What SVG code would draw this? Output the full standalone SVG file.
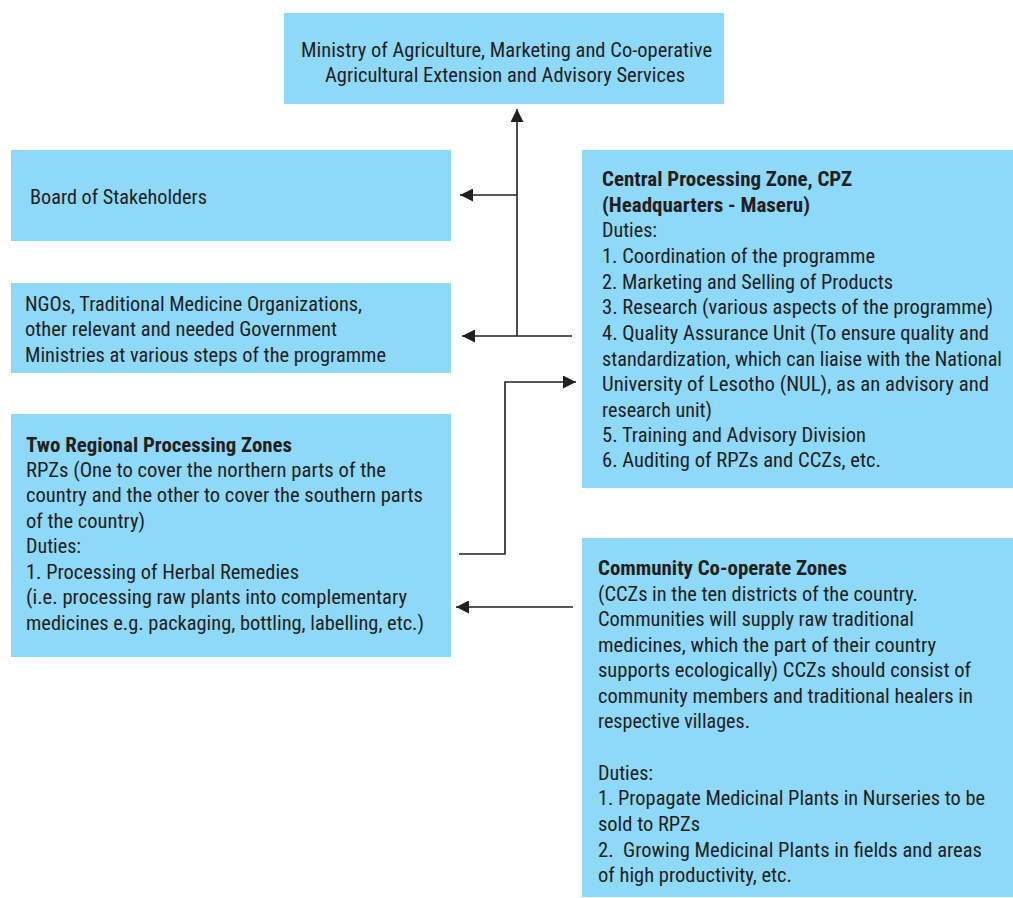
<svg xmlns="http://www.w3.org/2000/svg" width="1013" height="898" viewBox="0 0 1013 898">
<style>
.box{fill:#8ed8f8;}
text{font-family:"Liberation Sans Narrow","Roboto Condensed","DejaVu Sans Condensed","Liberation Sans",Arial,sans-serif;font-size:21px;fill:#231f20;}
.b{font-weight:bold;}
.c{stroke:#231f20;stroke-width:1.6;fill:none;}
</style>
<defs>
<marker id="ah" viewBox="0 0 13 13" refX="13" refY="6.5" markerWidth="13" markerHeight="13" orient="auto" markerUnits="userSpaceOnUse">
<path d="M0,0 L13,6.5 L0,13 z" fill="#231f20"/>
</marker>
</defs>
<rect width="1013" height="898" fill="#ffffff"/>

<g id="ministry">
<rect class="box" x="284" y="13" width="440" height="91"/>
<text x="301" y="57" textLength="411" lengthAdjust="spacingAndGlyphs">Ministry of Agriculture, Marketing and Co-operative</text>
<text x="325" y="82" textLength="360" lengthAdjust="spacingAndGlyphs">Agricultural Extension and Advisory Services</text>
</g>

<g id="board">
<rect class="box" x="11" y="150" width="440" height="91"/>
<text x="30" y="204" textLength="177" lengthAdjust="spacingAndGlyphs">Board of Stakeholders</text>
</g>

<g id="ngos">
<rect class="box" x="11" y="283" width="440" height="90"/>
<text x="25" y="311" textLength="337" lengthAdjust="spacingAndGlyphs">NGOs, Traditional Medicine Organizations,</text>
<text x="25" y="336" textLength="312" lengthAdjust="spacingAndGlyphs">other relevant and needed Government</text>
<text x="25" y="362" textLength="361" lengthAdjust="spacingAndGlyphs">Ministries at various steps of the programme</text>
</g>

<g id="rpz">
<rect class="box" x="11" y="414" width="440" height="243"/>
<text class="b" x="26" y="452" textLength="266" lengthAdjust="spacingAndGlyphs">Two Regional Processing Zones</text>
<text x="26" y="477" textLength="360" lengthAdjust="spacingAndGlyphs">RPZs (One to cover the northern parts of the</text>
<text x="26" y="502" textLength="397" lengthAdjust="spacingAndGlyphs">country and the other to cover the southern parts</text>
<text x="26" y="528" textLength="119" lengthAdjust="spacingAndGlyphs">of the country)</text>
<text x="26" y="553" textLength="55" lengthAdjust="spacingAndGlyphs">Duties:</text>
<text x="26" y="579" textLength="273" lengthAdjust="spacingAndGlyphs">1. Processing of Herbal Remedies</text>
<text x="26" y="604" textLength="381" lengthAdjust="spacingAndGlyphs">(i.e. processing raw plants into complementary</text>
<text x="26" y="630" textLength="398" lengthAdjust="spacingAndGlyphs">medicines e.g. packaging, bottling, labelling, etc.)</text>
</g>

<g id="cpz">
<rect class="box" x="582" y="150" width="431" height="338"/>
<text class="b" x="602" y="186" textLength="250" lengthAdjust="spacingAndGlyphs">Central Processing Zone, CPZ</text>
<text class="b" x="602" y="212" textLength="208" lengthAdjust="spacingAndGlyphs">(Headquarters - Maseru)</text>
<text x="602" y="237" textLength="55" lengthAdjust="spacingAndGlyphs">Duties:</text>
<text x="602" y="263" textLength="273" lengthAdjust="spacingAndGlyphs">1. Coordination of the programme</text>
<text x="602" y="289" textLength="291" lengthAdjust="spacingAndGlyphs">2. Marketing and Selling of Products</text>
<text x="602" y="314" textLength="391" lengthAdjust="spacingAndGlyphs">3. Research (various aspects of the programme)</text>
<text x="602" y="340" textLength="387" lengthAdjust="spacingAndGlyphs">4. Quality Assurance Unit (To ensure quality and</text>
<text x="602" y="366" textLength="400" lengthAdjust="spacingAndGlyphs">standardization, which can liaise with the National</text>
<text x="602" y="391" textLength="387" lengthAdjust="spacingAndGlyphs">University of Lesotho (NUL), as an advisory and</text>
<text x="602" y="417" textLength="110" lengthAdjust="spacingAndGlyphs">research unit)</text>
<text x="602" y="442" textLength="264" lengthAdjust="spacingAndGlyphs">5. Training and Advisory Division</text>
<text x="602" y="467" textLength="279" lengthAdjust="spacingAndGlyphs">6. Auditing of RPZs and CCZs, etc.</text>
</g>

<g id="ccz">
<rect class="box" x="582" y="538" width="431" height="359"/>
<text class="b" x="598" y="575" textLength="249" lengthAdjust="spacingAndGlyphs">Community Co-operate Zones</text>
<text x="598" y="601" textLength="320" lengthAdjust="spacingAndGlyphs">(CCZs in the ten districts of the country.</text>
<text x="598" y="626" textLength="316" lengthAdjust="spacingAndGlyphs">Communities will supply raw traditional</text>
<text x="598" y="652" textLength="338" lengthAdjust="spacingAndGlyphs">medicines, which the part of their country</text>
<text x="598" y="677" textLength="373" lengthAdjust="spacingAndGlyphs">supports ecologically) CCZs should consist of</text>
<text x="598" y="703" textLength="375" lengthAdjust="spacingAndGlyphs">community members and traditional healers in</text>
<text x="598" y="728" textLength="152" lengthAdjust="spacingAndGlyphs">respective villages.</text>
<text x="598" y="780" textLength="55" lengthAdjust="spacingAndGlyphs">Duties:</text>
<text x="598" y="805" textLength="387" lengthAdjust="spacingAndGlyphs">1. Propagate Medicinal Plants in Nurseries to be</text>
<text x="598" y="831" textLength="102" lengthAdjust="spacingAndGlyphs">sold to RPZs</text>
<text x="598" y="857" textLength="384" lengthAdjust="spacingAndGlyphs" xml:space="preserve">2.  Growing Medicinal Plants in fields and areas</text>
<text x="598" y="882" textLength="194" lengthAdjust="spacingAndGlyphs">of high productivity, etc.</text>
</g>

<g id="connectors">
<path class="c" d="M517,336 L517,109" marker-end="url(#ah)"/>
<path class="c" d="M517,195 L460,195" marker-end="url(#ah)"/>
<path class="c" d="M572,336 L462,336" marker-end="url(#ah)"/>
<path class="c" d="M459,554 L505,554 L505,382 L576,382" marker-end="url(#ah)"/>
<path class="c" d="M573,607 L456,607" marker-end="url(#ah)"/>
</g>
</svg>
